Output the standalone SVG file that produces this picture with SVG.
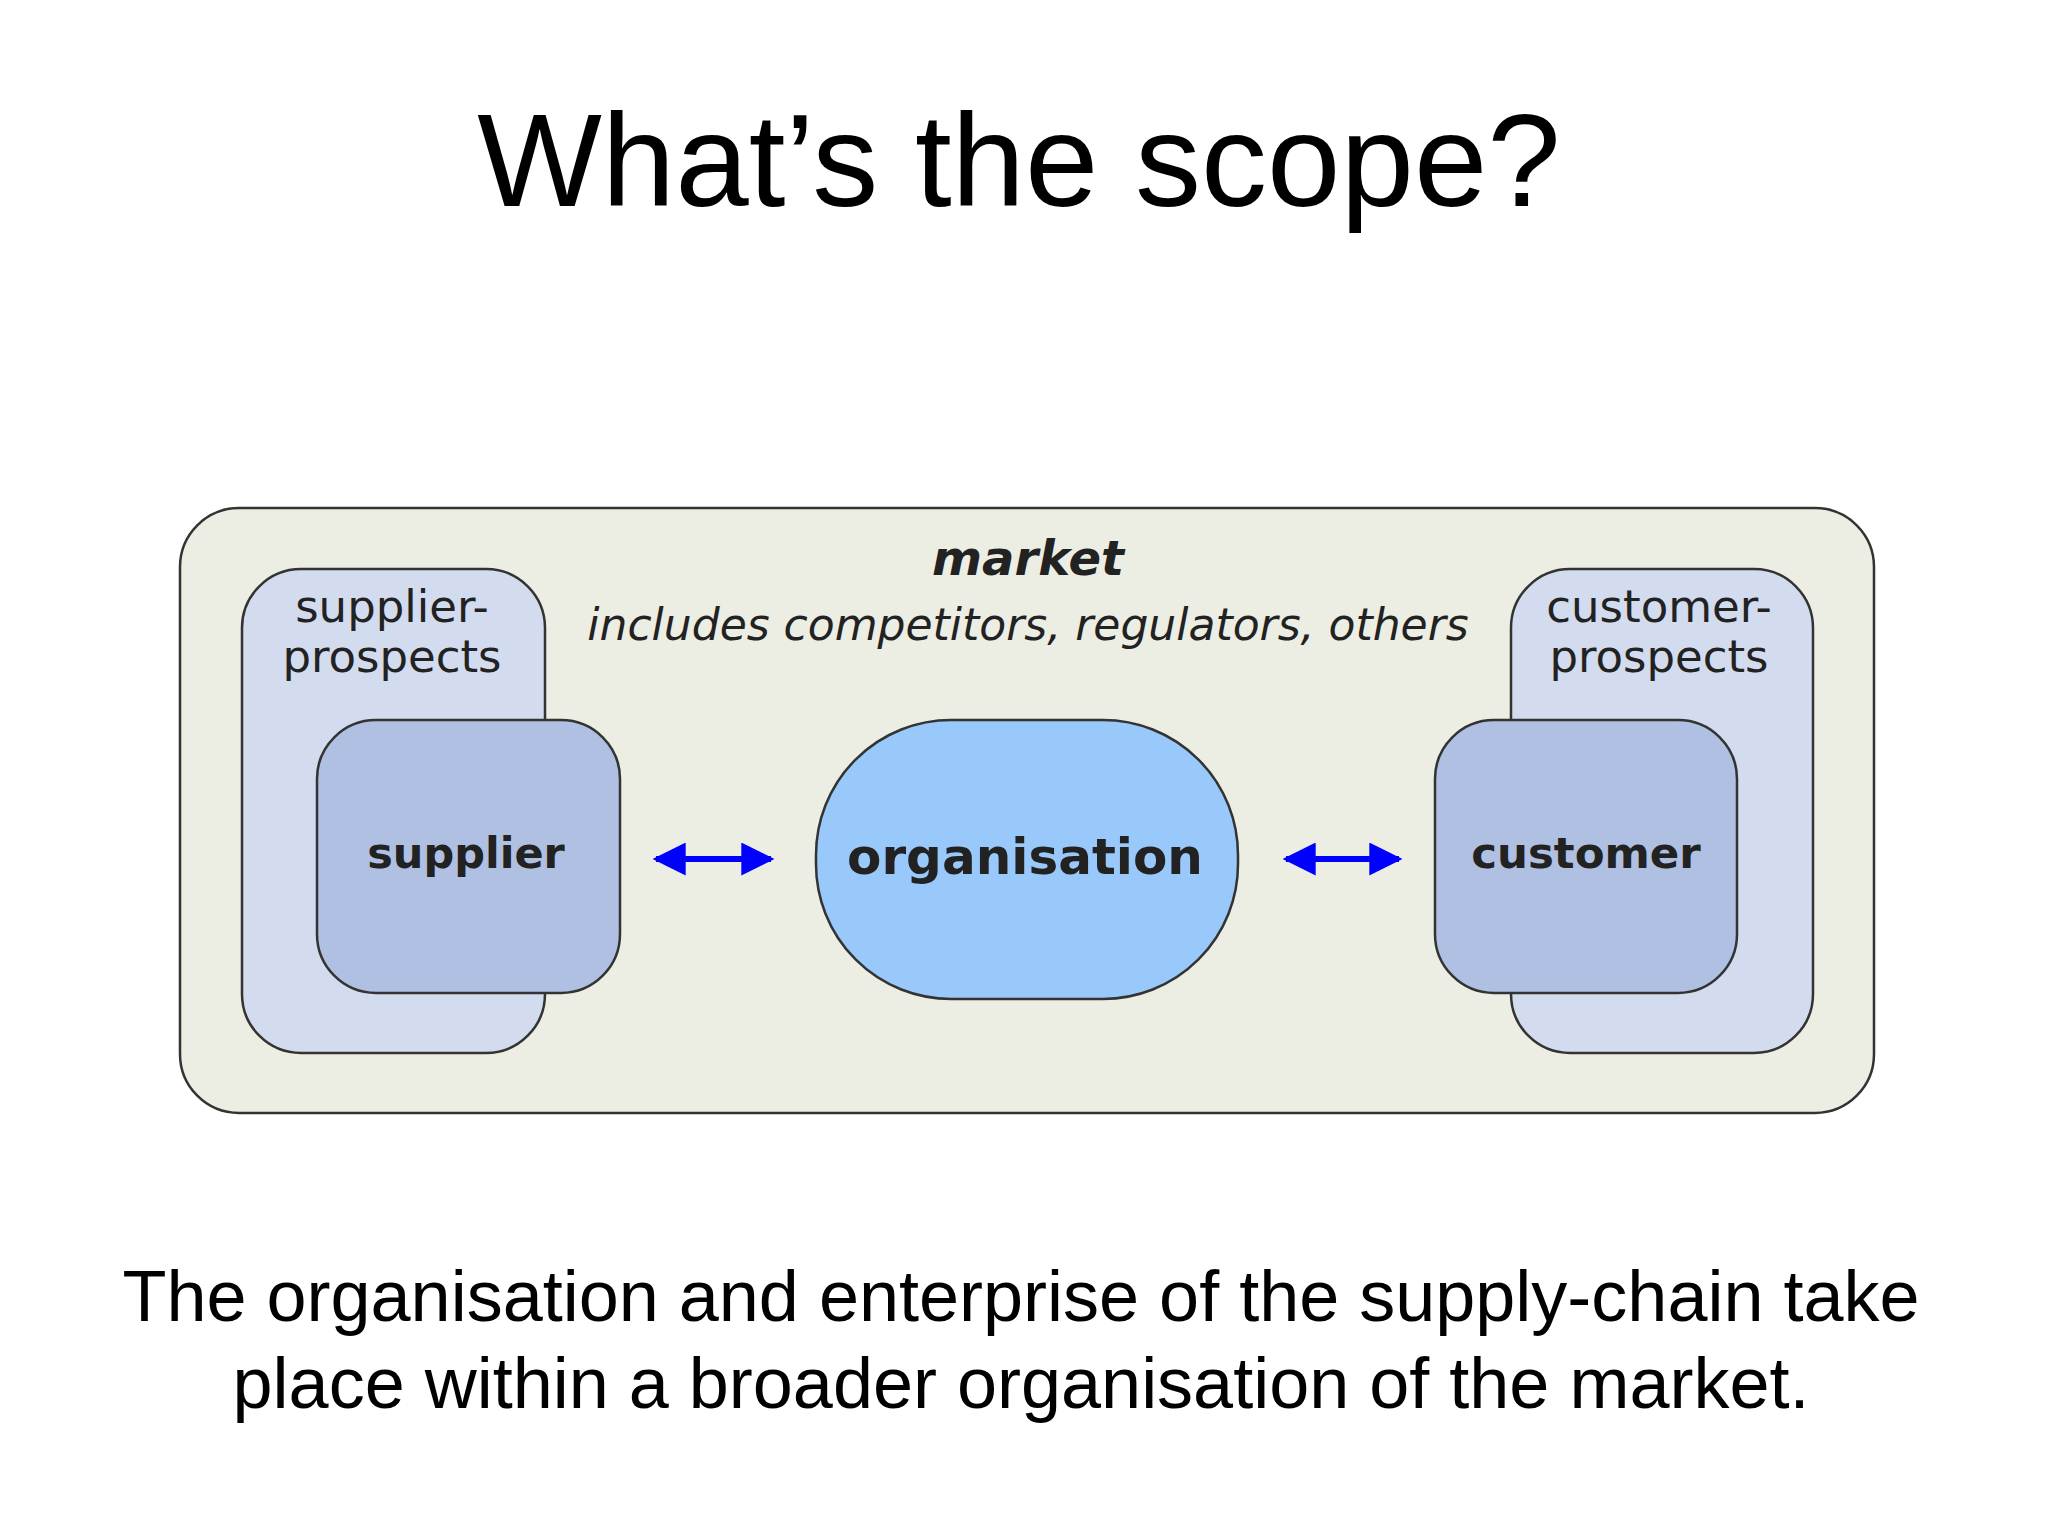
<svg xmlns="http://www.w3.org/2000/svg" width="2048" height="1536" viewBox="0 0 2048 1536">
<defs>
<marker id="ah" viewBox="0 0 10 10" refX="9" refY="5" markerWidth="5.5" markerHeight="5.5" orient="auto-start-reverse" markerUnits="strokeWidth"><path d="M0,0 L10,5 L0,10 z" fill="#0000ff"/></marker>
<style>
.t{font-family:"Liberation Sans",Arial,sans-serif;fill:#000;text-anchor:middle}
.d{font-family:"DejaVu Sans","Liberation Sans",sans-serif;fill:#222;text-anchor:middle}
.b{stroke:#333;stroke-width:2.5}
.c{stroke:#0000ff;stroke-width:6;marker-start:url(#ah);marker-end:url(#ah)}
</style>
</defs>
<rect width="2048" height="1536" fill="#fff"/>
<text class="t" x="1019" y="206" font-size="132">What’s the scope?</text>
<g id="market">
<rect class="b" x="180" y="508" width="1694" height="605" rx="59" fill="#ECEDE3"/>
<text class="d" x="1028" y="575" font-size="48" font-weight="bold" font-style="italic">market</text>
<text class="d" x="1028" y="640" font-size="44" font-style="italic">includes competitors, regulators, others</text>
</g>
<g id="supplier-prospects">
<rect class="b" x="242" y="569" width="303" height="484" rx="59" fill="#D2DCEE"/>
<text class="d" x="392" y="622" font-size="45">supplier-</text>
<text class="d" x="392" y="672" font-size="45">prospects</text>
</g>
<g id="supplier">
<rect class="b" x="317" y="720" width="303" height="273" rx="59" fill="#AFC0E2"/>
<text class="d" x="466" y="868" font-size="43" font-weight="bold">supplier</text>
</g>
<g id="organisation">
<rect class="b" x="816" y="720" width="422" height="279" rx="135" fill="#99C9FA"/>
<text class="d" x="1025" y="874" font-size="50" font-weight="bold">organisation</text>
</g>
<g id="customer-prospects">
<rect class="b" x="1511" y="569" width="302" height="484" rx="59" fill="#D2DCEE"/>
<text class="d" x="1659" y="622" font-size="45">customer-</text>
<text class="d" x="1659" y="672" font-size="45">prospects</text>
</g>
<g id="customer">
<rect class="b" x="1435" y="720" width="302" height="273" rx="59" fill="#AFC0E2"/>
<text class="d" x="1586" y="868" font-size="43.5" font-weight="bold">customer</text>
</g>
<g id="connectors">
<line class="c" x1="656" y1="859" x2="771" y2="859"/>
<line class="c" x1="1286" y1="859" x2="1399" y2="859"/>
</g>
<text class="t" x="1021" y="1321" font-size="72">The organisation and enterprise of the supply-chain take</text>
<text class="t" x="1021" y="1408" font-size="72">place within a broader organisation of the market.</text>
</svg>
